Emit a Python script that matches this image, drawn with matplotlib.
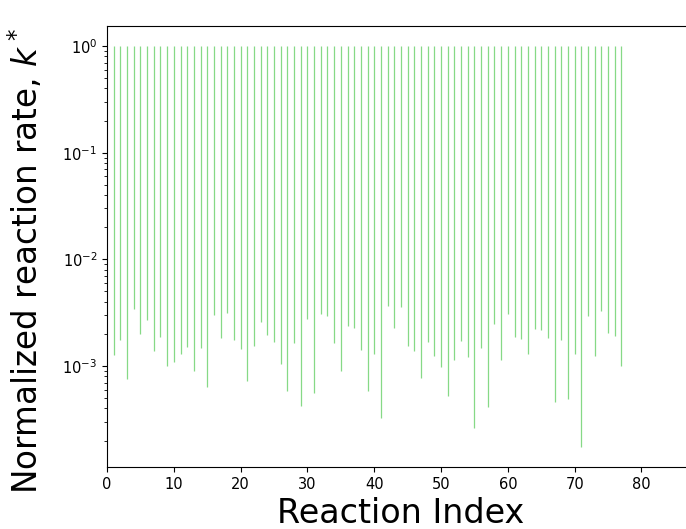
import matplotlib.pyplot as plt
import numpy as np

# reaction indices 1..77, normalized rate goes from a lower value up to 1
reaction_index = np.arange(1, 78)
k_upper = np.ones(77)
k_lower = [
    1.28e-3, 1.74e-3, 7.5e-4, 3.42e-3, 2.0e-3, 2.72e-3, 1.37e-3, 1.86e-3, 1.0e-3, 1.1e-3,
    1.3e-3, 1.5e-3, 8.9e-4, 1.48e-3, 6.4e-4, 3.03e-3, 1.85e-3, 3.14e-3, 1.74e-3, 1.45e-3,
    7.2e-4, 1.54e-3, 2.59e-3, 1.97e-3, 1.67e-3, 1.05e-3, 5.8e-4, 1.65e-3, 4.2e-4, 2.76e-3,
    5.6e-4, 3.1e-3, 2.94e-3, 1.64e-3, 8.9e-4, 2.36e-3, 2.29e-3, 1.42e-3, 5.8e-4, 1.29e-3,
    3.25e-4, 3.65e-3, 2.27e-3, 3.6e-3, 1.53e-3, 1.39e-3, 7.7e-4, 1.67e-3, 1.24e-3, 9.7e-4,
    5.2e-4, 1.15e-3, 1.73e-3, 1.21e-3, 2.64e-4, 1.48e-3, 4.1e-4, 2.46e-3, 1.15e-3, 3.05e-3,
    1.87e-3, 1.79e-3, 1.29e-3, 2.22e-3, 2.16e-3, 1.82e-3, 4.6e-4, 1.77e-3, 4.9e-4, 1.3e-3,
    1.74e-4, 2.92e-3, 1.25e-3, 3.26e-3, 2.05e-3, 1.9e-3, 1.0e-3,
]

fig = plt.figure(figsize=(6.86, 5.29), dpi=100)
# axes runs past the right edge, like the cropped original
ax = fig.add_axes([0.156, 0.117, 0.857, 0.834])

ax.vlines(reaction_index, k_lower, k_upper, color='#86d986', linewidth=0.9)
ax.set_yscale('log')
ax.set_xlim(0, 88)
ax.set_xticks(np.arange(0, 90, 10))

ax.set_xlabel("Reaction Index", fontsize=24, labelpad=4)
ax.set_ylabel("Normalized reaction rate, $k^*$", fontsize=23.5)
ax.yaxis.set_label_coords(-0.105, 0.468)
ax.tick_params(labelsize=10.5)

fig.savefig("out.png", dpi=100)
